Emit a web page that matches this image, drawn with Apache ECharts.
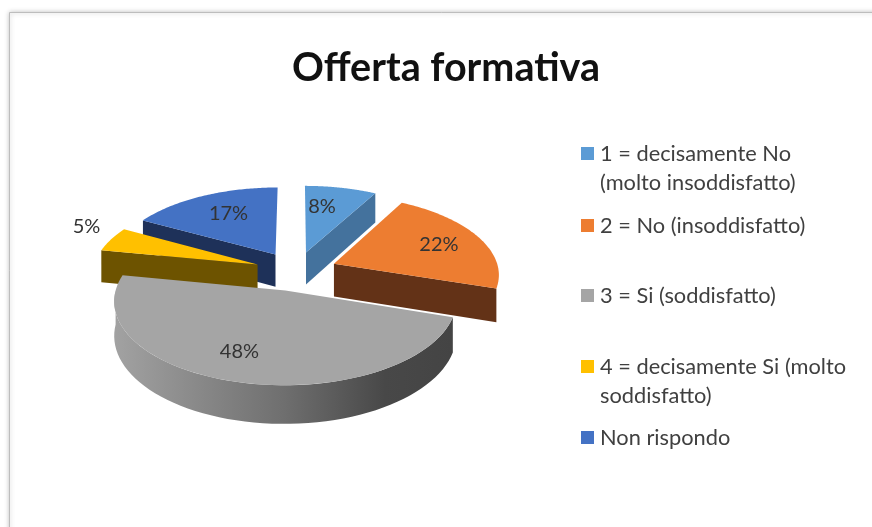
<!DOCTYPE html>
<html>
<head>
<meta charset="utf-8">
<style>
html,body{margin:0;padding:0;background:#fff}
#main{width:872px;height:527px}
</style>
<script src="https://cdn.jsdelivr.net/npm/echarts@6/dist/echarts.min.js"></script>
</head>
<body>
<div id="main"></div>
<script>
var categories = ['1 = decisamente No (molto insoddisfatto)', '2 = No (insoddisfatto)', '3 = Si (soddisfatto)', '4 = decisamente Si (molto soddisfatto)', 'Non rispondo'];
var values = [8, 22, 48, 5, 17];
var labels = ['8%', '22%', '48%', '5%', '17%'];
var topColors = ['#5b9bd5', '#ed7d31', '#a5a5a5', '#ffc000', '#4472c4'];
var sideColors = ['#44729d', '#633217', '#6e6e6e', '#6d5300', '#1e3159'];

// the 3d look: tilted plane with a bit of perspective, all slices pulled out the same
var cx = 296, cy = 271, R = 165, tilt = 0.476, persp = 0.1175, depth = 33, explode = 0.25;
// label position relative to the slice tip
var labelOffset = [[16, -46], [105, -19], [-46, 61], [-171, -38], [-47, -41]];
var legendTop = [105, 206, 276, 318, 418];
var legendLines = {};
legendLines[categories[0]] = ' \n1 = decisamente No\n(molto insoddisfatto)';
legendLines[categories[3]] = ' \n4 = decisamente Si (molto\nsoddisfatto)';

var total = values.reduce(function (a, b) { return a + b; }, 0);
var startAngle = [];
values.reduce(function (sum, v, i) {
	startAngle[i] = sum / total * Math.PI * 2;
	return sum + v;
}, 0);

// plane coords (X right, Y away from viewer) to screen
function project(X, Y, down) {
	var p = 1 / (1 + persp * Y);
	return [cx + X * R * p, cy - Y * R * tilt * p + (down ? depth * p : 0)];
}

function renderSlice(idx) {
	return function (params, api) {
		var val = api.value(0);
		var a0 = startAngle[idx];
		var a1 = a0 + val / total * Math.PI * 2;
		var mid = (a0 + a1) / 2;
		var ox = explode * Math.sin(mid), oy = explode * Math.cos(mid);
		var tip = function (down) { return project(ox, oy, down); };
		var rim = function (a, down) { return project(ox + Math.sin(a), oy + Math.cos(a), down); };
		var children = [];

		// outer wall, only the big grey slice shows a curved one
		var from = Math.max(a0, Math.PI / 2), to = Math.min(a1, Math.PI * 1.5);
		if (idx === 2) {
			var pts = [], k, n = 60;
			for (k = 0; k <= n; k++) pts.push(rim(from + (to - from) * k / n, false));
			for (k = n; k >= 0; k--) pts.push(rim(from + (to - from) * k / n, true));
			children.push({
				type: 'polygon',
				shape: { points: pts },
				style: {
					fill: {
						type: 'linear', x: 0, y: 0, x2: 1, y2: 0,
						colorStops: [
							{ offset: 0, color: '#a2a2a2' },
							{ offset: 0.5, color: '#6f6f6f' },
							{ offset: 0.8, color: '#484848' },
							{ offset: 1, color: '#444444' }
						]
					}
				}
			});
		}
		// flat cut walls
		if (Math.sin(a0) < -1e-6) {
			children.push({
				type: 'polygon',
				shape: { points: [tip(false), rim(a0, false), rim(a0, true), tip(true)] },
				style: { fill: sideColors[idx] }
			});
		}
		if (Math.sin(a1) > 1e-6) {
			children.push({
				type: 'polygon',
				shape: { points: [tip(false), rim(a1, false), rim(a1, true), tip(true)] },
				style: { fill: sideColors[idx] }
			});
		}
		// top face
		var face = [tip(false)];
		for (var i = 0; i <= 80; i++) face.push(rim(a0 + (a1 - a0) * i / 80, false));
		children.push({ type: 'polygon', shape: { points: face }, style: { fill: topColors[idx] } });

		var t = tip(false);
		children.push({
			type: 'text',
			z2: 10,
			style: {
				x: t[0] + labelOffset[idx][0],
				y: t[1] + labelOffset[idx][1],
				text: labels[idx],
				fill: '#333',
				font: '20px Lato',
				align: 'center',
				verticalAlign: 'middle'
			}
		});
		return { type: 'group', children: children };
	};
}

// back slices first, orange sits over the grey one
var drawOrder = [4, 0, 3, 2, 1];
var series = drawOrder.map(function (i) {
	return {
		type: 'custom',
		name: categories[i],
		coordinateSystem: 'none',
		color: topColors[i],
		data: [[values[i]]],
		renderItem: renderSlice(i),
		silent: true
	};
});

var legends = categories.map(function (name, i) {
	return {
		data: [name],
		left: 576,
		top: legendTop[i],
		icon: 'rect',
		itemWidth: 13,
		itemHeight: 13,
		itemGap: 0,
		selectedMode: false,
		textStyle: { fontFamily: 'Lato', fontSize: 21.8, color: '#404040', lineHeight: 29, padding: [0, 0, 0, 1] },
		formatter: function (n) { return legendLines[n] || n; }
	};
});

var myChart = echarts.init(document.getElementById('main'));
myChart.setOption({
	backgroundColor: '#ffffff',
	animation: false,
	title: {
		text: 'Offerta formativa',
		left: 287,
		top: 43,
		textStyle: { fontFamily: 'Lato', fontSize: 39.5, fontWeight: 'bold', color: '#111' }
	},
	legend: legends,
	graphic: [{
		type: 'rect',
		silent: true,
		z: -1,
		shape: { x: 9.5, y: 12.5, width: 900, height: 560 },
		style: { fill: '#fff', stroke: '#bdbdbd', lineWidth: 1, shadowBlur: 5, shadowColor: 'rgba(0,0,0,0.3)' }
	}],
	series: series
});
</script>
</body>
</html>
